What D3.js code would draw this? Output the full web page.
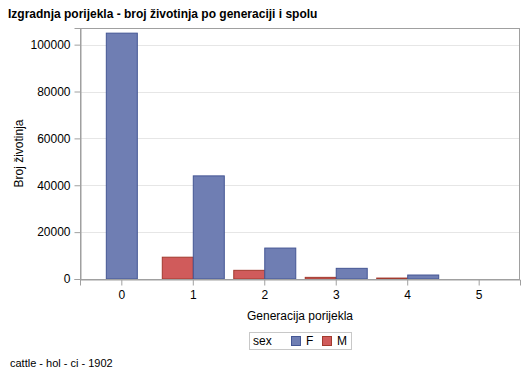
<!DOCTYPE html>
<html>
<head>
<meta charset="utf-8">
<script src="https://cdn.jsdelivr.net/npm/d3@7"></script>
<style>
  html, body { margin: 0; padding: 0; background: #fff; }
  svg { display: block; font-family: "Liberation Sans", Arial, sans-serif; }
</style>
</head>
<body>
<svg id="chart" width="529" height="378"></svg>
<script>
// ---- data ----
const categories = ["0", "1", "2", "3", "4", "5"];
const seriesNames = ["F", "M"];
const valuesF = [104900, 44000, 13200, 4550, 1700, null];
const valuesM = [null, 9300, 3700, 700, 400, null];
const yTicks = [0, 20000, 40000, 60000, 80000, 100000];
const titleText = "Izgradnja porijekla - broj životinja po generaciji i spolu";
const xLabel = "Generacija porijekla";
const yLabel = "Broj životinja";
const legendTitle = "sex";
const footnote = "cattle - hol - ci - 1902";

const colors = { F: { fill: "#6F7EB3", stroke: "#445694" }, M: { fill: "#D05B5B", stroke: "#A23A2E" } };

// ---- layout ----
const svg = d3.select("#chart");
const L = 80, R = 520, T = 28, B = 279;

const x = d3.scalePoint().domain(categories).range([L, R]).padding(0.578);
const y = d3.scaleLinear().domain([0, 107100]).range([B, T]);
const barW = 31;
// cluster order inside a category: M left, F right
const clusterOrder = ["M", "F"];

// gridlines
svg.append("g").selectAll("line").data(yTicks.filter(d => d > 0)).join("line")
  .attr("x1", L).attr("x2", R)
  .attr("y1", d => Math.round(y(d)) + 0.5).attr("y2", d => Math.round(y(d)) + 0.5)
  .attr("stroke", "#E6E6E6").attr("stroke-width", 1);

// bars
const rows = [];
categories.forEach((c, i) => {
  const present = clusterOrder.filter(s => (s === "F" ? valuesF[i] : valuesM[i]) != null);
  present.forEach((s, j) => {
    const v = s === "F" ? valuesF[i] : valuesM[i];
    const x0 = x(c) - present.length * barW / 2 + j * barW;
    rows.push({ c, s, v, x0 });
  });
});
svg.append("g").selectAll("rect").data(rows).join("rect")
  .attr("x", d => d.x0 + 0.5)
  .attr("y", d => y(d.v))
  .attr("width", barW)
  .attr("height", d => y(0) - y(d.v))
  .attr("fill", d => colors[d.s].fill)
  .attr("stroke", d => colors[d.s].stroke)
  .attr("stroke-width", 1);

// frame
svg.append("rect").attr("x", L + 0.5).attr("y", T + 0.5).attr("width", R - L - 1).attr("height", B - T)
  .attr("fill", "none").attr("stroke", "#A0A0A0").attr("stroke-width", 1);

// axes
const yAxis = d3.axisLeft(y).tickValues(yTicks).tickSize(6).tickPadding(4).tickFormat(d3.format("d"));
const gy = svg.append("g").attr("transform", `translate(${L + 0.5},0)`).call(yAxis);
gy.select(".domain").attr("stroke", "#A0A0A0");
gy.selectAll(".tick line").attr("stroke", "#A0A0A0");
gy.selectAll(".tick text").attr("font-size", 12).attr("fill", "#000").attr("font-family", "Liberation Sans, Arial, sans-serif");

const xAxis = d3.axisBottom(x).tickSize(6).tickPadding(5);
const gx = svg.append("g").attr("transform", `translate(0,${B + 0.5})`).call(xAxis);
gx.select(".domain").attr("stroke", "#A0A0A0");
gx.selectAll(".tick line").attr("stroke", "#A0A0A0");
gx.selectAll(".tick text").attr("font-size", 12).attr("fill", "#000").attr("font-family", "Liberation Sans, Arial, sans-serif");

// title
svg.append("text").attr("x", 8).attr("y", 18).attr("font-size", 12).attr("font-weight", "bold")
  .attr("fill", "#000").text(titleText);

// axis labels
svg.append("text").attr("x", (L + R) / 2).attr("y", 320).attr("text-anchor", "middle")
  .attr("font-size", 12).attr("fill", "#000").text(xLabel);
svg.append("text").attr("transform", `translate(23,${(T + B) / 2}) rotate(-90)`).attr("text-anchor", "middle")
  .attr("font-size", 12).attr("fill", "#000").text(yLabel);

// legend
const lg = svg.append("g");
lg.append("rect").attr("x", 249.5).attr("y", 332.5).attr("width", 102).attr("height", 17)
  .attr("fill", "#fff").attr("stroke", "#C8C8C8");
lg.append("text").attr("x", 253).attr("y", 345).attr("font-size", 12).attr("fill", "#000").text(legendTitle);
const legendPos = { F: 291, M: 322 };
seriesNames.forEach(s => {
  lg.append("rect").attr("x", legendPos[s] + 0.5).attr("y", 336.5).attr("width", 9).attr("height", 9)
    .attr("fill", colors[s].fill).attr("stroke", colors[s].stroke);
  lg.append("text").attr("x", legendPos[s] + 15).attr("y", 345).attr("font-size", 12).attr("fill", "#000").text(s);
});

// footnote
svg.append("text").attr("x", 10).attr("y", 367).attr("font-size", 11).attr("fill", "#000").text(footnote);
</script>
</body>
</html>
